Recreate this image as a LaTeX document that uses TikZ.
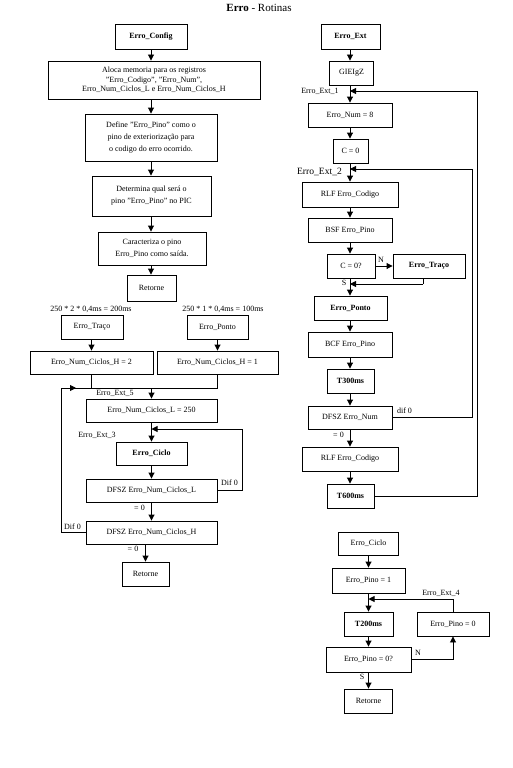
\documentclass[tikz,border=0pt]{standalone}
\usepackage{fontspec}
\setmainfont{Liberation Serif}
\usetikzlibrary{arrows.meta}
\begin{document}
\begin{tikzpicture}[x=1pt,y=-1pt,
 bx/.style={draw,line width=0.9pt,inner sep=1pt,align=center,font=\fontsize{8}{12}\selectfont},
 lb/.style={inner sep=0pt,font=\fontsize{8}{9.5}\selectfont},
 arr/.style={-{Triangle[length=6pt,width=6pt]},line width=0.9pt},
 ln/.style={line width=0.9pt}]
\useasboundingbox (0,0) rectangle (513,768);
\node[inner sep=0pt,font=\fontsize{11}{13}\selectfont] (title) at (259,8) {\textbf{Erro} - Rotinas};
% ---------- left column ----------
\node[bx,minimum width=72pt,minimum height=25pt] (cfg) at (151,36.5) {\textbf{Erro\_Config}};
\node[bx,minimum width=212pt,minimum height=38pt,font=\fontsize{8}{9.6}\selectfont] (aloca) at (154,80) {Aloca memoria para os registros\\"Erro\_Codigo", "Erro\_Num",\\Erro\_Num\_Ciclos\_L e Erro\_Num\_Ciclos\_H};
\node[bx,minimum width=132pt,minimum height=47pt] (define) at (151,137.5) {Define "Erro\_Pino" como o\\pino de exteriorização para\\o codigo do erro ocorrido.};
\node[bx,minimum width=119pt,minimum height=40pt] (determ) at (151.5,196) {Determina qual será o\\pino "Erro\_Pino" no PIC};
\node[bx,minimum width=108pt,minimum height=33pt] (caract) at (152,248.5) {Caracteriza o pino\\Erro\_Pino como saída.};
\node[bx,minimum width=49pt,minimum height=26pt] (ret1) at (151.5,288) {Retorne};
\draw[arr] (cfg.south) -- (cfg.south |- aloca.north);
\draw[arr] (cfg.south |- aloca.south) -- (cfg.south |- define.north);
\draw[arr] (define.south) -- (define.south |- determ.north);
\draw[arr] (define.south |- determ.south) -- (define.south |- caract.north);
\draw[arr] (define.south |- caract.south) -- (define.south |- ret1.north);

\node[lb] (lt2) at (91,309) {250 * 2 * 0,4ms = 200ms};
\node[lb] (lt1) at (223,309) {250 * 1 * 0,4ms = 100ms};
\node[bx,minimum width=62pt,minimum height=24pt] (traco) at (92,327) {Erro\_Traço};
\node[bx,minimum width=61pt,minimum height=24pt] (ponto) at (217.5,327) {Erro\_Ponto};
\node[bx,minimum width=123pt,minimum height=23pt] (h2) at (91.5,362.5) {Erro\_Num\_Ciclos\_H = 2};
\node[bx,minimum width=121pt,minimum height=23pt] (h1) at (217.5,362.5) {Erro\_Num\_Ciclos\_H = 1};
\draw[arr] (traco.south -| h2.north) -- (h2.north);
\draw[arr] (ponto.south -| h1.north) -- (h1.north);

\node[bx,minimum width=131pt,minimum height=23pt] (l250) at (151.5,410.5) {Erro\_Num\_Ciclos\_L = 250};
\node[bx,minimum width=71pt,minimum height=23pt] (ciclo) at (151.5,453.5) {\textbf{Erro\_Ciclo}};
\node[bx,minimum width=131pt,minimum height=23pt] (dfszl) at (151.5,490.5) {DFSZ Erro\_Num\_Ciclos\_L};
\node[bx,minimum width=131pt,minimum height=23pt] (dfszh) at (151.5,532.5) {DFSZ Erro\_Num\_Ciclos\_H};
\node[bx,minimum width=47pt,minimum height=24pt] (ret2) at (145.5,574) {Retorne};

\coordinate (jL) at (61,388);
\coordinate (jC) at (151.5,388);
\coordinate (rL) at (242,429);
\draw[ln] (h2.south) |- (jC);
\draw[ln] (h1.south) |- (jC);
\draw[arr] (jC) -- (l250.north);
\draw[ln] (dfszh.west) -| (jL) -- (jC);
\draw[arr] (jL) -- ++(15,0);
\draw[arr] (l250.south) -- (ciclo.north);
\draw[arr] (ciclo.south) -- (dfszl.north);
\draw[ln] (dfszl.east) -| (rL);
\draw[arr] (rL) -- (rL -| l250.south);
\draw[arr] (dfszl.south) -- (dfszh.north);
\draw[arr] (ret2.north |- dfszh.south) -- (ret2.north);

\node[lb] (ext5) at (115,393) {Erro\_Ext\_5};
\node[lb] (ext3) at (97,435) {Erro\_Ext\_3};
\node[lb] (dif0a) at (229.5,483) {Dif 0};
\node[lb] (eq0a) at (139.5,508) {= 0};
\node[lb] (dif0b) at (72.5,527) {Dif 0};
\node[lb] (eq0b) at (133,549) {= 0};

% ---------- right column ----------
\node[bx,minimum width=59pt,minimum height=25pt] (ext) at (350.5,36.5) {\textbf{Erro\_Ext}};
\node[bx,minimum width=44pt,minimum height=24pt] (gie) at (351.5,73) {GIEIgZ};
\node[bx,minimum width=84pt,minimum height=24pt] (num8) at (350,115) {Erro\_Num = 8};
\node[bx,minimum width=35pt,minimum height=24pt] (c0) at (350.5,151) {C = 0};
\node[bx,minimum width=96pt,minimum height=25pt] (rlf1) at (350,194.5) {RLF Erro\_Codigo};
\node[bx,minimum width=84pt,minimum height=24pt] (bsf) at (350,230) {BSF Erro\_Pino};
\node[bx,minimum width=48pt,minimum height=24pt] (cq) at (351,266) {C = 0?};
\node[bx,minimum width=72pt,minimum height=24pt] (traco2) at (429,266) {\textbf{Erro\_Traço}};
\node[bx,minimum width=73pt,minimum height=24pt] (ponto2) at (350.5,308) {\textbf{Erro\_Ponto}};
\node[bx,minimum width=84pt,minimum height=25pt] (bcf) at (350,344.5) {BCF Erro\_Pino};
\node[bx,minimum width=47pt,minimum height=24pt] (t300) at (350.5,381) {\textbf{T300ms}};
\node[bx,minimum width=84pt,minimum height=23pt] (dfszn) at (350,417.5) {DFSZ Erro\_Num};
\node[bx,minimum width=96pt,minimum height=24pt] (rlf2) at (350,459) {RLF Erro\_Codigo};
\node[bx,minimum width=47pt,minimum height=24pt] (t600) at (350.5,496) {\textbf{T600ms}};

\coordinate (col) at (350,0);
\draw[arr] (col |- ext.south) -- (col |- gie.north);
\draw[arr] (col |- gie.south) -- (col |- num8.north);
\draw[arr] (col |- num8.south) -- (col |- c0.north);
\draw[arr] (col |- c0.south) -- (col |- rlf1.north);
\draw[arr] (col |- rlf1.south) -- (col |- bsf.north);
\draw[arr] (col |- bsf.south) -- (col |- cq.north);
\draw[arr] (col |- cq.south) -- (col |- ponto2.north);
\draw[arr] (col |- ponto2.south) -- (col |- bcf.north);
\draw[arr] (col |- bcf.south) -- (col |- t300.north);
\draw[arr] (col |- t300.south) -- (col |- dfszn.north);
\draw[arr] (col |- dfszn.south) -- (col |- rlf2.north);
\draw[arr] (col |- rlf2.south) -- (col |- t600.north);
\draw[arr] (cq.east) -- (traco2.west);

\coordinate (o1) at (477,91);
\coordinate (o2) at (472,169);
\coordinate (s1) at (423,284);
\draw[ln] (t600.east) -| (o1);
\draw[arr] (o1) -- (o1 -| col);
\draw[ln] (dfszn.east) -| (o2);
\draw[arr] (o2) -- (o2 -| col);
\draw[ln] (s1 |- traco2.south) -- (s1);
\draw[arr] (s1) -- (s1 -| col);

\node[lb] (ext1) at (320,91) {Erro\_Ext\_1};
\node[lb,font=\fontsize{9.6}{11}\selectfont] (ext2) at (319.5,172) {Erro\_Ext\_2};
\node[lb] (nlab) at (381,260) {N};
\node[lb] (slab) at (344,283) {S};
\node[lb] (dif0c) at (404.5,411) {dif 0};
\node[lb] (eq0c) at (338.5,435) {= 0};

% ---------- bottom right ----------
\node[bx,minimum width=60pt,minimum height=23pt] (ciclo2) at (368.5,543.5) {Erro\_Ciclo};
\node[bx,minimum width=73pt,minimum height=25pt] (pino1) at (368.5,580.5) {Erro\_Pino = 1};
\node[bx,minimum width=49pt,minimum height=24pt] (t200) at (368.5,624) {\textbf{T200ms}};
\node[bx,minimum width=72pt,minimum height=24pt] (pino0) at (453,624) {Erro\_Pino = 0};
\node[bx,minimum width=85pt,minimum height=25pt] (pinoq) at (368.5,659.5) {Erro\_Pino = 0?};
\node[bx,minimum width=48pt,minimum height=24pt] (ret3) at (368.5,701) {Retorne};
\draw[arr] (ciclo2.south) -- (pino1.north);
\draw[arr] (pino1.south) -- (t200.north);
\draw[arr] (t200.south) -- (pinoq.north);
\draw[arr] (pinoq.south) -- (ret3.north);
\coordinate (e4) at (453,599);
\draw[ln] (pino0.north) -- (e4);
\draw[arr] (e4) -- (e4 -| t200.north);
\draw[arr] (pinoq.east) -| (pino0.south);
\node[lb] (ext4) at (441,593) {Erro\_Ext\_4};
\node[lb] (nlab2) at (418,653) {N};
\node[lb] (slab2) at (362,677) {S};
\end{tikzpicture}
\end{document}
